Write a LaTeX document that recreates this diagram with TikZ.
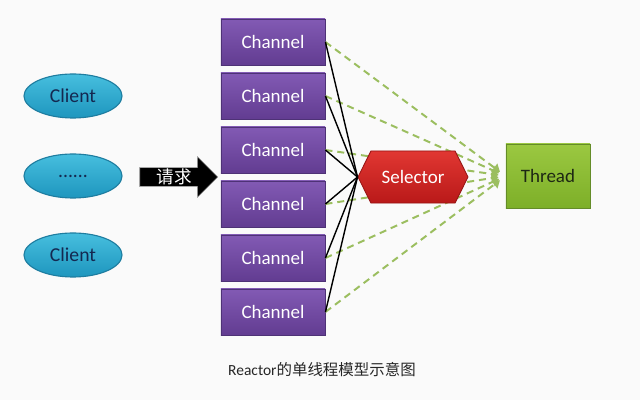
\documentclass[tikz,border=0pt]{standalone}
\usepackage{fontspec}
\setmainfont{Carlito}
\newfontfamily\cjk{Noto Sans CJK SC}
\usepackage{tikz}
\usetikzlibrary{shapes.geometric, shapes.symbols, shapes.arrows, arrows.meta, positioning}
\definecolor{bgpaper}{RGB}{250,250,250}
\definecolor{clienttop}{RGB}{70,190,222}
\definecolor{clientbot}{RGB}{30,150,190}
\definecolor{clientedge}{RGB}{30,125,160}
\definecolor{clienttext}{RGB}{20,40,80}
\definecolor{chantop}{RGB}{130,90,180}
\definecolor{chanbot}{RGB}{98,60,145}
\definecolor{chanedge}{RGB}{78,50,118}
\definecolor{seltop}{RGB}{225,55,50}
\definecolor{selbot}{RGB}{185,25,25}
\definecolor{seledge}{RGB}{150,20,20}
\definecolor{threadtop}{RGB}{155,200,65}
\definecolor{threadbot}{RGB}{125,175,40}
\definecolor{threadedge}{RGB}{100,140,40}
\definecolor{threadtext}{RGB}{30,40,20}
\definecolor{pollgreen}{RGB}{155,190,95}
\tikzset{
  client/.style={ellipse, draw=clientedge, top color=clienttop, bottom color=clientbot,
    minimum width=2.45cm, minimum height=1.1cm, inner sep=0pt,
    font=\fontsize{14}{16}\selectfont, text=clienttext, line width=0.8pt},
  chan/.style={rectangle, draw=chanedge, top color=chantop, bottom color=chanbot,
    minimum width=2.6cm, minimum height=1.15cm, inner sep=0pt,
    font=\fontsize{13.5}{16}\selectfont, text=white, line width=0.6pt},
  selbox/.style={signal, signal to=west and east, signal pointer angle=127,
    draw=seledge, top color=seltop, bottom color=selbot,
    minimum width=2.75cm, minimum height=1.3cm,
    inner sep=0pt, font=\fontsize{13.5}{16}\selectfont, text=white, line width=0.6pt},
  threadbox/.style={rectangle, draw=threadedge, top color=threadtop, bottom color=threadbot,
    minimum width=2.1cm, minimum height=1.6cm, inner sep=0pt,
    font=\fontsize{13.5}{16}\selectfont, text=threadtext, line width=0.6pt},
  reqarrow/.style={single arrow, fill=black, draw=gray!70, text=white,
    minimum height=1.95cm, single arrow head extend=0.27cm, inner sep=0.8pt,
    font=\cjk\fontsize{12.5}{14}\selectfont},
  link/.style={line width=1pt, color=black},
  poll/.style={-{Triangle[width=7pt,length=5pt]}, dash pattern=on 5pt off 3.5pt,
    line width=1.4pt, color=pollgreen, shorten >=5pt}
}

\begin{document}
\begin{tikzpicture}[x=0.025cm, y=-0.025cm]
  \fill[bgpaper] (0,0) rectangle (640,400);
  \useasboundingbox (0,0) rectangle (640,400);

  % Clients
  \node[client] (c1) at (73,96) {Client};
  \node[client] (c2) at (73,176) {......};
  \node[client] (c3) at (73,255) {Client};
  \node[reqarrow] (req) at (174,177) {请求};

  % Channels
  \node[chan] (ch1) at (273,42) {Channel};
  \node[chan] (ch2) at (273,96) {Channel};
  \node[chan] (ch3) at (273,150) {Channel};
  \node[chan] (ch4) at (273,204) {Channel};
  \node[chan] (ch5) at (273,258) {Channel};
  \node[chan] (ch6) at (273,312) {Channel};

  \node[threadbox] (thr) at (548,176) {Thread};

  % Polling lines
  \draw[poll] (ch1.east) -- (thr.west);
  \draw[poll] (ch2.east) -- (thr.west);
  \draw[poll] (ch3.east) -- (thr.west);
  \draw[poll] (ch4.east) -- (thr.west);
  \draw[poll] (ch5.east) -- (thr.west);
  \draw[poll] (ch6.east) -- (thr.west);

  \node[selbox] (sel) at (413,177) {Selector};

  % Registration lines
  \draw[link] (ch1.east) -- (sel.west);
  \draw[link] (ch2.east) -- (sel.west);
  \draw[link] (ch3.east) -- (sel.west);
  \draw[link] (ch4.east) -- (sel.west);
  \draw[link] (ch5.east) -- (sel.west);
  \draw[link] (ch6.east) -- (sel.west);

  \node[font=\fontsize{11}{13}\selectfont, text=black!85] (cap) at (322,370)
    {Reactor{\cjk 的单线程模型示意图}};
\end{tikzpicture}
\end{document}
